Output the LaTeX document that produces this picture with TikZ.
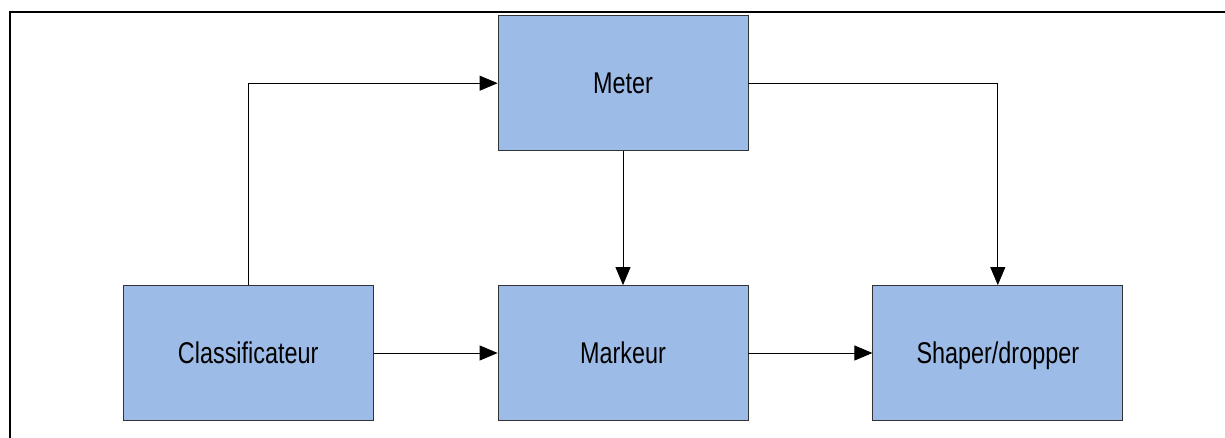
\documentclass[tikz,border=0pt]{standalone}
\usepackage{fontspec}
\setmainfont{Liberation Sans}[FakeStretch=0.78]
\usetikzlibrary{positioning,arrows.meta}

\definecolor{boxblue}{RGB}{157,187,231}

\begin{document}
\begin{tikzpicture}[
    x=1pt, y=1pt,
    node distance=134pt and 124pt,
    block/.style={draw=black!80, fill=boxblue, line width=0.8pt,
        minimum width=250pt, minimum height=135pt, text depth=0pt,
        font=\fontsize{30}{36}\selectfont},
    flow/.style={-{Triangle[length=18pt,width=15pt]}, line width=0.8pt}
]
\useasboundingbox (0,0) rectangle (1225,438);

% Frame (top and left edges)
\draw[line width=2.8pt] (10,0) |- (1226,426);

% Blocks
\node[block] (markeur) at (623,85) {Markeur};
\node[block, left=of markeur] (classif) {Classificateur};
\node[block, right=of markeur] (shaper) {Shaper/dropper};
\node[block, above=of markeur] (meter) {Meter};

% Connections
\draw[flow] (classif.north) |- (meter.west);
\draw[flow] (meter.east) -| (shaper.north);
\draw[flow] (meter) -- (markeur);
\draw[flow] (classif) -- (markeur);
\draw[flow] (markeur) -- (shaper);

\end{tikzpicture}
\end{document}
